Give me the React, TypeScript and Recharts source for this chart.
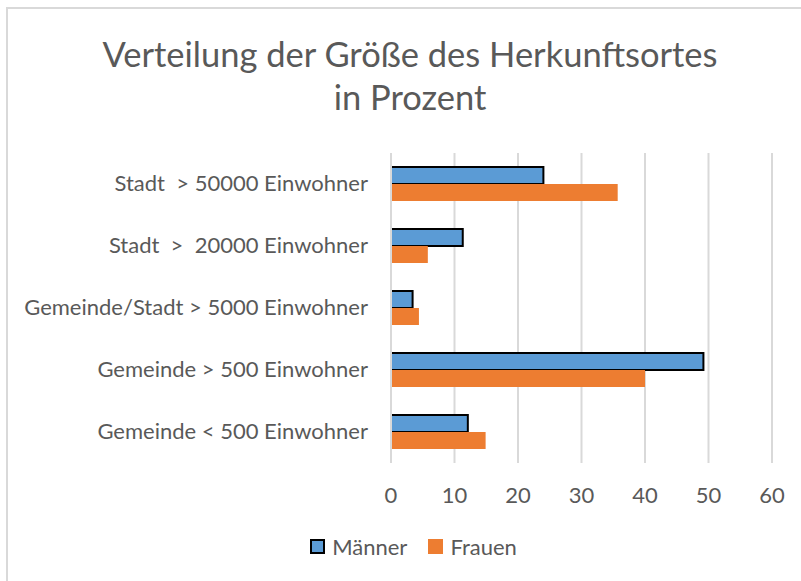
import { BarChart, Bar, XAxis, YAxis, CartesianGrid } from "recharts";

const categories = [
  "Stadt  > 50000 Einwohner",
  "Stadt  >  20000 Einwohner",
  "Gemeinde/Stadt > 5000 Einwohner",
  "Gemeinde > 500 Einwohner",
  "Gemeinde < 500 Einwohner",
];
const maenner = [24.0, 11.3, 3.4, 49.2, 12.1];
const frauen = [35.7, 5.8, 4.4, 40.0, 14.9];
const xTicks = [0, 10, 20, 30, 40, 50, 60];

const FONT = "Lato, 'Open Sans', sans-serif";
const TEXT = "#595959";

const data = categories.map((name, i) => ({
  name,
  Männer: maenner[i],
  Frauen: frauen[i],
}));

function CategoryTick({ x, y, payload }: any) {
  return (
    <text
      x={x}
      y={y}
      dy={7}
      textAnchor="end"
      fill={TEXT}
      fontSize={22}
      fontFamily={FONT}
      style={{ whiteSpace: "pre" }}
    >
      {payload.value}
    </text>
  );
}

function ChartLegend() {
  const items = [
    { label: "Männer", fill: "#5b9bd5", stroke: "#000" },
    { label: "Frauen", fill: "#ed7d31", stroke: "none" },
  ];
  return (
    <div
      style={{
        position: "absolute",
        left: 0,
        top: 533,
        width: 801,
        display: "flex",
        justifyContent: "center",
        gap: 21,
        fontFamily: FONT,
        fontSize: 22,
        color: TEXT,
        paddingLeft: 26,
        boxSizing: "border-box",
      }}
    >
      {items.map((it) => (
        <div key={it.label} style={{ display: "flex", alignItems: "center", gap: 7 }}>
          <svg width={15} height={15}>
            <rect
              x={it.stroke === "none" ? 0 : 1}
              y={it.stroke === "none" ? 0 : 1}
              width={it.stroke === "none" ? 15 : 13}
              height={it.stroke === "none" ? 15 : 13}
              fill={it.fill}
              stroke={it.stroke}
              strokeWidth={2}
            />
          </svg>
          <span>{it.label}</span>
        </div>
      ))}
    </div>
  );
}

export default function App() {
  return (
    <div
      style={{
        position: "absolute",
        left: 0,
        top: 0,
        width: 801,
        height: 581,
        overflow: "hidden",
        background: "#fff",
      }}
    >
      <div
        style={{
          position: "absolute",
          left: 6,
          top: 7,
          width: 820,
          height: 600,
          borderLeft: "2px solid #d9d9d9",
          borderTop: "2px solid #d9d9d9",
        }}
      />
      <div
        style={{
          position: "absolute",
          left: 0,
          top: 32,
          width: 820,
          textAlign: "center",
          fontFamily: FONT,
          fontSize: 34.5,
          lineHeight: "43px",
          color: TEXT,
        }}
      >
        Verteilung der Größe des Herkunftsortes
        <br />
        in Prozent
      </div>
      <div style={{ position: "absolute", left: 0, top: 0 }}>
        <BarChart
          width={801}
          height={581}
          data={data}
          layout="vertical"
          barGap={0}
          margin={{ top: 153, right: 29, bottom: 88, left: 0 }}
        >
          <CartesianGrid horizontal={false} stroke="#d9d9d9" strokeWidth={2} />
          <XAxis
            type="number"
            domain={[0, 60]}
            ticks={xTicks}
            axisLine={false}
            tickLine={false}
            tick={{ fill: TEXT, fontSize: 22, fontFamily: FONT }}
            tickMargin={18}
          />
          <YAxis
            type="category"
            dataKey="name"
            width={391}
            axisLine={{ stroke: "#d9d9d9", strokeWidth: 2 }}
            tickLine={false}
            tickMargin={17}
            tick={<CategoryTick />}
          />
          <Bar dataKey="Männer" fill="#5b9bd5" stroke="#000" strokeWidth={2} barSize={17} isAnimationActive={false} />
          <Bar dataKey="Frauen" fill="#ed7d31" barSize={17} isAnimationActive={false} />
        </BarChart>
      </div>
      <ChartLegend />
    </div>
  );
}
